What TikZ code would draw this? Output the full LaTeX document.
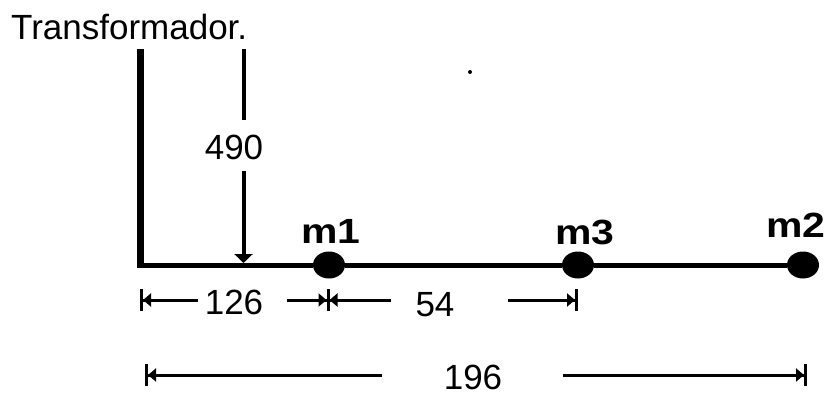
\documentclass[tikz,border=0pt]{standalone}
\usepackage{fontspec}
\setmainfont{Liberation Sans}
\usetikzlibrary{arrows.meta,shapes.geometric}
\newcommand{\wideb}[1]{\scalebox{1.17}[1]{#1}}
\tikzset{
  x=1pt,y=-1pt,
  lbl/.style={inner sep=0pt,font=\fontsize{35}{35}\selectfont},
  mass/.style={inner sep=0pt,font=\fontsize{35}{35}\selectfont\bfseries},
  beam/.style={line width=5pt,line cap=butt},
  massdot/.style={fill=black,draw=none,ellipse,minimum width=32pt,minimum height=27pt,inner sep=0pt},
  dim/.style={line width=3pt,-{Triangle[length=8pt,width=13pt]Bar[width=22pt,line width=3pt,length=0pt]}},
  load/.style={line width=4pt,-{Triangle[length=9pt,width=18pt]}},
}
\begin{document}
\begin{tikzpicture}
\useasboundingbox (0,0) rectangle (828,394);
\fill[white] (0,0) rectangle (828,394);
\node[lbl,anchor=west] (title) at (11,27) {Transformador.};
\coordinate (top) at (140.5,49);
\coordinate (corner) at (140.5,265);
\node[massdot] (m1d) at (329,265) {};
\node[massdot] (m3d) at (578,265) {};
\node[massdot] (m2d) at (803,265) {};
\draw[line width=7pt] (top) -- (corner);
\draw[beam] (137,265) -- (m1d) -- (m3d) -- (m2d);
\node[mass] (m1) at (331,231) {\wideb{m1}};
\node[mass] (m3) at (585,232) {\wideb{m3}};
\node[mass] (m2) at (796,225) {\wideb{m2}};
\node[circle,fill=black,inner sep=0pt,minimum size=4pt] (speck) at (470,72) {};
% load 490
\coordinate (loadtop) at (243.5,49);
\coordinate (loadbot) at (243.5,263);
\node[lbl] (l490) at (234,147) {490};
\draw[line width=4pt] (loadtop) -- (243.5,120);
\draw[load] (243.5,171) -- (loadbot);
% dimensions
\coordinate (a0) at (140,300);
\coordinate (a1l) at (329.5,300);
\coordinate (a1r) at (326.5,300);
\coordinate (a2) at (578,300);
\node[lbl] (d126) at (234,302) {126};
\node[lbl] (d54) at (435,305) {54};
\draw[dim] (198,300) -- (a0);
\draw[dim] (287,300) -- (a1l);
\draw[dim] (391,300) -- (a1r);
\draw[dim] (508,300) -- (a2);
\coordinate (b0) at (145,375);
\coordinate (b1) at (807,375);
\node[lbl] (d196) at (473,377) {196};
\draw[dim] (382,375) -- (b0);
\draw[dim] (563,375) -- (b1);
\end{tikzpicture}
\end{document}
